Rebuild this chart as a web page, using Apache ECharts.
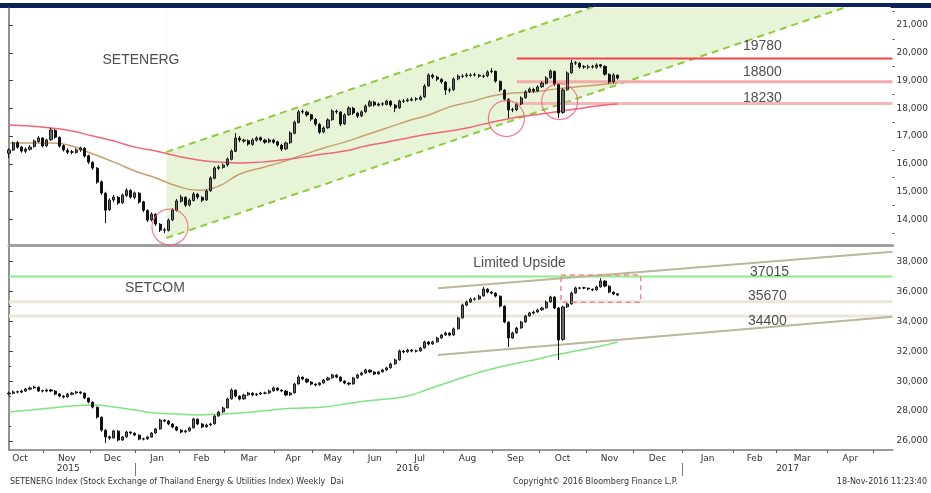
<!DOCTYPE html>
<html>
<head>
<meta charset="utf-8">
<script src="https://cdn.jsdelivr.net/npm/echarts@6/dist/echarts.min.js"></script>
<style>
html, body { margin: 0; padding: 0; background: #fff; }
#chart { width: 931px; height: 493px; }
</style>
</head>
<body>
<div id="chart"></div>
<script>
'use strict';

// x is counted in trading sessions from the left edge of the plot
var X_MAX = 421;
var BAR_STEP = 2; // one bar drawn every 2 sessions

var monthTicks = [16.3, 38.6, 60, 81, 102.4, 126.2, 144.6, 164, 184.6, 206.8, 230.1, 252.5, 275.1, 297.3, 320.8, 344.9, 365.6, 390.1, 411.6];
var monthLabelPos = [5.2, 27.5, 49.3, 70.5, 91.7, 114.3, 135.4, 154.3, 174.3, 195.7, 218.5, 241.3, 263.8, 286.2, 309, 332.9, 355.3, 378, 400.9];
var monthNames = ['Oct', 'Nov', 'Dec', 'Jan', 'Feb', 'Mar', 'Apr', 'May', 'Jun', 'Jul', 'Aug', 'Sep', 'Oct', 'Nov', 'Dec', 'Jan', 'Feb', 'Mar', 'Apr'];
var yearTicks = [60, 320.8];
var yearLabelPos = [28.2, 190, 371];
var yearNames = ['2015', '2016', '2017'];

var energTicks = [14000, 15000, 16000, 17000, 18000, 19000, 20000, 21000];
var energMinor = [13500, 14500, 15500, 16500, 17500, 18500, 19500, 20500, 21500];
var setcomTicks = [26000, 28000, 30000, 32000, 34000, 36000, 38000];
var setcomMinor = [27000, 29000, 31000, 33000, 35000, 37000];

// SETENERG bars [open, close, low, high]
var energBars = [
  [16380,16500,16200,16560],[16500,16750,16460,16800],[16760,16600,16540,16820],[16600,16460,16400,16640],
  [16450,16530,16380,16590],[16520,16600,16470,16680],[16620,16820,16580,16870],[16800,16930,16760,17000],
  [16930,16640,16590,16960],[16650,16860,16600,16900],[16870,17220,16820,17300],[17200,16960,16900,17250],
  [16950,16640,16580,16990],[16650,16500,16440,16700],[16480,16420,16350,16560],[16430,16420,16340,16500],
  [16410,16500,16360,16560],[16500,16570,16430,16620],[16560,16280,16220,16600],[16290,16060,15990,16330],
  [16050,15850,15780,16090],[15840,15340,15280,15880],[15350,14950,14880,15400],[14940,14330,13860,14990],
  [14350,14690,14300,14760],[14700,14800,14620,14880],[14790,14590,14520,14840],[14600,14870,14550,14930],
  [14860,15050,14800,15120],[15040,14800,14740,15080],[14790,14950,14720,15000],[14940,14620,14560,14980],
  [14630,14330,14260,14670],[14320,13970,13900,14360],[13980,14190,13920,14250],[14180,13830,13760,14220],
  [13820,13610,13540,13860],[13620,13610,13500,13700],[13600,13970,13560,14030],[13980,14330,13940,14400],
  [14320,14660,14280,14730],[14650,14800,14600,14880],[14790,14510,14440,14830],[14520,14690,14460,14750],
  [14680,14910,14640,14980],[14900,14800,14720,14950],[14790,14690,14620,14830],[14700,15020,14660,15080],
  [15030,15490,14990,15550],[15480,15850,15440,15910],[15840,15880,15780,15950],[15870,15950,15820,16010],
  [15960,16170,15900,16230],[16160,16460,16120,16520],[16450,16930,16420,17110],[16920,16860,16780,17000],
  [16850,16820,16760,16900],[16830,16710,16650,16880],[16700,16860,16650,16920],[16850,16930,16800,16990],
  [16940,16860,16800,16980],[16850,16780,16720,16900],[16790,16860,16740,16920],[16850,16780,16720,16900],
  [16790,16680,16620,16830],[16670,16530,16460,16720],[16540,16750,16490,16800],[16760,17110,16720,17170],
  [17100,17500,17060,17560],[17490,17870,17450,17940],[17880,17870,17800,17960],[17860,17760,17700,17910],
  [17770,17610,17540,17800],[17600,17430,17360,17650],[17420,17140,17080,17470],[17150,17290,17100,17350],
  [17300,17580,17260,17640],[17590,17900,17550,17960],[17890,17870,17800,17950],[17860,17430,17360,17900],
  [17440,17760,17400,17820],[17770,18010,17730,18070],[18000,17830,17760,18050],[17820,17720,17650,17870],
  [17730,17870,17680,17930],[17880,18080,17840,18140],[18090,18230,18040,18300],[18220,18120,18060,18270],
  [18110,18150,18070,18210],[18160,18150,18080,18220],[18140,18260,18100,18310],[18250,18120,18050,18290],
  [18110,18010,17860,18160],[18020,18260,17980,18310],[18250,18260,18190,18330],[18270,18300,18220,18360],
  [18290,18330,18250,18390],[18340,18330,18260,18400],[18320,18400,18280,18460],[18410,18800,18370,18870],
  [18810,19200,18770,19260],[19190,19130,19060,19250],[19120,19050,18980,19170],[19040,18950,18880,19090],
  [18940,18660,18480,18980],[18650,18660,18560,18740],[18670,19050,18630,19110],[19060,19160,19010,19220],
  [19150,19160,19090,19230],[19170,19200,19110,19270],[19190,19200,19130,19260],[19210,19200,19140,19280],
  [19190,19160,19100,19240],[19150,19160,19090,19220],[19170,19310,19120,19370],[19320,19340,19260,19450],
  [19330,18980,18920,19360],[18970,18660,18600,19000],[18650,18330,18270,18690],[18320,17940,17650,18360],
  [17950,17940,17860,18020],[17950,18150,17900,18210],[18160,18370,18110,18430],[18380,18590,18340,18650],
  [18600,18690,18550,18750],[18680,18620,18560,18740],[18630,18770,18580,18830],[18780,18910,18730,18970],
  [18900,19090,18860,19160],[19100,19340,19060,19400],[19330,18870,18800,19360],[18860,17830,17650,18900],
  [17850,18660,17800,18720],[18670,19270,18630,19330],[19280,19630,19240,19740],[19640,19630,19560,19700],
  [19620,19490,19430,19660],[19500,19490,19420,19560],[19480,19490,19410,19570],[19500,19490,19430,19560],
  [19480,19560,19420,19620],[19570,19520,19460,19600],[19510,19230,19170,19550],[19220,18950,18890,19260],
  [18960,19200,18900,19260],[19190,19090,19030,19220]
];

// SETCOM bars [open, close, low, high]
var setcomBars = [
  [29150,29210,29050,29300],[29200,29280,29120,29380],[29290,29280,29180,29370],[29270,29350,29200,29430],
  [29340,29480,29280,29560],[29470,29550,29400,29640],[29560,29610,29480,29700],[29600,29350,29280,29650],
  [29360,29350,29250,29440],[29340,29410,29260,29500],[29420,29350,29270,29480],[29340,29140,29060,29400],
  [29150,29010,28920,29200],[29000,28940,28850,29080],[28950,29140,28900,29220],[29130,29210,29060,29290],
  [29220,29280,29150,29360],[29270,29210,29130,29330],[29200,28880,28800,29250],[28870,28610,28520,28920],
  [28600,28270,28180,28650],[28260,27600,27500,28300],[27590,26730,26620,27640],[26720,26270,25860,26780],
  [26280,26200,26080,26350],[26210,26670,26150,26750],[26660,26060,25980,26720],[26070,26270,26000,26340],
  [26280,26600,26220,26680],[26590,26530,26440,26650],[26520,26400,26320,26580],[26390,26130,26050,26440],
  [26140,26130,26040,26220],[26140,26270,26080,26350],[26260,26530,26220,26600],[26540,26800,26480,26880],
  [26810,27400,26760,27480],[27390,27340,27250,27460],[27330,27140,27060,27400],[27130,26940,26860,27200],
  [26930,26730,26650,27000],[26720,26600,26520,26780],[26610,26670,26540,26750],[26680,26870,26620,26950],
  [26880,27470,26840,27560],[27460,27140,27060,27500],[27130,26940,26860,27200],[26950,27070,26880,27150],
  [27080,27140,27000,27220],[27150,27670,27100,27740],[27680,27940,27620,28020],[27950,28210,27890,28300],
  [28220,28810,28180,28900],[28820,29410,28780,29520],[29400,29010,28920,29450],[29000,28810,28720,29060],
  [28820,29080,28760,29150],[29090,29210,29020,29290],[29200,29080,29000,29260],[29090,29140,29010,29220],
  [29150,29210,29070,29290],[29200,29210,29120,29300],[29220,29350,29160,29430],[29360,29550,29300,29640],
  [29540,29410,29330,29600],[29400,29350,29270,29460],[29340,29080,29000,29400],[29090,29210,29020,29290],
  [29220,29810,29180,29900],[29820,30280,29780,30400],[30270,30150,30060,30320],[30140,29950,29870,30200],
  [29940,29810,29730,30000],[29800,29750,29660,29860],[29760,29880,29700,29950],[29890,30080,29830,30150],
  [30090,30220,30020,30300],[30230,30420,30170,30500],[30410,30280,30200,30480],[30270,30020,29940,30330],
  [30010,29880,29800,30060],[29870,29810,29720,29930],[29820,30220,29780,30290],[30230,30420,30170,30500],
  [30430,30550,30370,30640],[30560,30750,30490,30840],[30740,30620,30540,30800],[30610,30480,30400,30670],
  [30490,30620,30430,30700],[30630,30750,30570,30830],[30760,30890,30690,30980],[30900,31150,30840,31240],
  [31160,31420,31100,31520],[31430,32020,31380,32120],[32010,31960,31870,32090],[31970,32090,31900,32180],
  [32080,32020,31940,32160],[32030,32020,31930,32110],[32030,32220,31970,32300],[32230,32630,32180,32720],
  [32620,32490,32400,32690],[32500,32630,32430,32710],[32640,32890,32580,32980],[32900,33090,32840,33180],
  [33100,33230,33030,33320],[33220,33090,33000,33290],[33100,33500,33040,33590],[33510,34230,33460,34320],
  [34240,35100,34200,35200],[35090,35300,35020,35400],[35310,35500,35240,35600],[35490,35500,35400,35620],
  [35510,35700,35450,35800],[35710,36170,35660,36310],[36160,35970,35880,36220],[35960,35900,35810,36030],
  [35890,35700,35610,35960],[35690,35030,34940,35740],[35020,33960,33880,35080],[33950,32890,32290,34000],
  [32900,33230,32840,33320],[33240,33560,33180,33640],[33570,33960,33510,34040],[33970,34370,33910,34450],
  [34380,34570,34310,34650],[34560,34630,34480,34720],[34640,34770,34580,34850],[34780,34900,34710,34980],
  [34910,35300,34850,35400],[35310,35640,35250,35720],[35630,34900,34820,35680],[34900,32760,31420,34950],
  [32800,34970,32700,35060],[34980,35170,34900,35260],[35180,35900,35120,36000],[35910,36240,35850,36330],
  [36230,36240,36150,36320],[36250,36240,36160,36320],[36230,36170,36090,36260],[36160,36110,36030,36200],
  [36120,36310,36050,36400],[36320,36710,36260,36900],[36700,36370,36290,36760],[36360,35970,35890,36420],
  [35960,35840,35760,36010],[35850,35770,35690,35900]
];

// moving averages, sampled every 10 sessions
var maSessions = [0,10,20,30,40,50,60,70,80,90,100,110,120,130,140,150,160,170,180,190,200,210,220,230,240,250,260,270,280,290];
var energMaRed = [17400,17360,17290,17180,17000,16820,16600,16460,16280,16140,16060,16030,16060,16140,16240,16350,16460,16640,16780,16930,17070,17180,17320,17500,17650,17760,17870,17970,18080,18150];
var energMaTan = [16750,16750,16750,16640,16350,16060,15740,15490,15200,15050,15200,15630,15850,16060,16320,16570,16780,17040,17290,17540,17760,18050,18230,18440,18550,18590,18690,18770,18840,18910];
var setcomMaGreen = [27940,28070,28210,28340,28410,28275,28070,27870,27805,27740,27805,27870,28005,28140,28210,28275,28475,28675,28810,29010,29480,29950,30420,30820,31150,31420,31750,32020,32290,32630];

// rising channel on SETENERG
var channelSessions = [75, 420];
var channelLower = [13325, 22190];
var channelUpper = [16425, 25290];

var energLevelStart = 242;
var energLevels = [19790, 18960, 18170];
var energLevelNames = ['19780', '18800', '18230'];
var energLevelTextAt = [[359, 20243], [359, 19306], [359, 18369]];
var energCircles = [[76.7, 13720], [237, 17630], [262.4, 18243]];

var setcomLevels = [37015, 35320, 34370];
var setcomLevelNames = ['37015', '35670', '34400'];
var setcomLevelTextAt = [[362.4, 37330], [361.4, 35724], [361.4, 34011]];
var setcomUpperTrend = [[204.4, 36219], [421, 38669]];
var setcomLowerTrend = [[204.4, 31755], [421, 34318]];
var setcomBox = [[263, 37110], [301, 37110], [301, 35282], [263, 35282], [263, 37110]];

var titles = [
  { text: 'SETENERG', grid: 0, at: [62.9, 19739] },
  { text: 'SETCOM', grid: 1, at: [69.5, 36219] },
  { text: 'Limited Upside', grid: 1, at: [243.3, 37933] }
];

var LABEL_FONT = 'DejaVu Sans';
var TEXT_FONT = 'Liberation Sans';

function bars(list) {
  return list.map(function (b, i) { return [i * BAR_STEP, b[0], b[1], b[2], b[3]]; });
}
function pairs(xs, ys) {
  return xs.map(function (x, i) { return [x, ys[i]]; });
}
function hline(v, from) {
  return [[from, v], [X_MAX, v]];
}
function lineSeries(gridIdx, data, color, width, extra) {
  var s = {
    type: 'line',
    xAxisIndex: gridIdx === 0 ? 0 : 1,
    yAxisIndex: gridIdx === 0 ? 0 : 2,
    data: data,
    symbol: 'none',
    silent: true,
    lineStyle: { color: color, width: width }
  };
  for (var k in extra) { s[k] = extra[k]; }
  return s;
}
function textSeries(gridIdx, items) {
  return {
    type: 'scatter',
    xAxisIndex: gridIdx === 0 ? 0 : 1,
    yAxisIndex: gridIdx === 0 ? 0 : 2,
    symbolSize: 1,
    z: 10,
    itemStyle: { color: 'rgba(0,0,0,0)' },
    data: items.map(function (it) { return { value: it.at, name: it.text }; }),
    label: {
      show: true,
      position: 'inside',
      formatter: function (p) { return p.name; },
      fontFamily: TEXT_FONT,
      fontSize: 14,
      color: '#222'
    }
  };
}

var candleStyle = {
  color: '#6a6a6a',
  color0: '#111',
  borderColor: '#1a1a1a',
  borderColor0: '#111',
  borderWidth: 1
};

var series = [];

// channel: green fill above the lower edge, then white above the upper edge
var channelDash = { color: '#8dcc3c', width: 2, type: [7, 5] };
series.push(lineSeries(0, pairs(channelSessions, channelLower), '#8dcc3c', 2,
  { z: 1, lineStyle: channelDash, areaStyle: { origin: 'end', color: '#e7f4d8', opacity: 1 } }));
series.push(lineSeries(0, pairs(channelSessions, channelUpper), '#8dcc3c', 2,
  { z: 1, lineStyle: channelDash, areaStyle: { origin: 'end', color: '#ffffff', opacity: 1 } }));

// SETENERG levels
var energLevelColors = ['#ef4448', '#f6aaa9', '#f7b6b6'];
var energLevelWidths = [2, 3, 3];
energLevels.forEach(function (v, i) {
  series.push(lineSeries(0, hline(v, energLevelStart), energLevelColors[i], energLevelWidths[i], { z: 2 }));
});

// SETENERG averages
series.push(lineSeries(0, pairs(maSessions, energMaTan), '#c9a06c', 1.5, { smooth: true, z: 2 }));
series.push(lineSeries(0, pairs(maSessions, energMaRed), '#f06677', 1.5, { smooth: true, z: 2 }));

series.push({
  type: 'candlestick',
  xAxisIndex: 0,
  yAxisIndex: 0,
  data: bars(energBars),
  encode: { x: 0, y: [1, 2, 3, 4] },
  barWidth: 2.6,
  z: 4,
  silent: true,
  itemStyle: candleStyle
});

series.push({
  type: 'scatter',
  xAxisIndex: 0,
  yAxisIndex: 0,
  data: energCircles,
  symbol: 'circle',
  symbolSize: 36,
  z: 6,
  silent: true,
  itemStyle: { color: 'rgba(0,0,0,0)', borderColor: '#ef6070', borderWidth: 1.2 }
});

series.push(textSeries(0, energLevelNames.map(function (n, i) {
  return { text: n, at: energLevelTextAt[i] };
}).concat(titles.filter(function (t) { return t.grid === 0; }))));

// SETCOM levels and trend lines
var setcomLevelColors = ['#8eec8e', '#e9e7da', '#e9e7da'];
var setcomLevelWidths = [2, 3, 3];
setcomLevels.forEach(function (v, i) {
  series.push(lineSeries(1, hline(v, 0), setcomLevelColors[i], setcomLevelWidths[i], { z: 2 }));
});
series.push(lineSeries(1, setcomUpperTrend, '#bdb698', 2, { z: 3 }));
series.push(lineSeries(1, setcomLowerTrend, '#bdb698', 2, { z: 3 }));
series.push(lineSeries(1, pairs(maSessions, setcomMaGreen), '#7ee67e', 1.5, { smooth: true, z: 2 }));
series.push(lineSeries(1, setcomBox, '#f08a8a', 1.5,
  { z: 5, lineStyle: { color: '#f08a8a', width: 1.5, type: [5, 4] } }));

series.push({
  type: 'candlestick',
  xAxisIndex: 1,
  yAxisIndex: 2,
  data: bars(setcomBars),
  encode: { x: 0, y: [1, 2, 3, 4] },
  barWidth: 2.6,
  z: 4,
  silent: true,
  itemStyle: candleStyle
});

series.push(textSeries(1, setcomLevelNames.map(function (n, i) {
  return { text: n, at: setcomLevelTextAt[i] };
}).concat(titles.filter(function (t) { return t.grid === 1; }))));

var axisLabelStyle = { fontFamily: LABEL_FONT, fontSize: 9, color: '#333' };

function priceAxis(gridIdx, min, max, ticks) {
  return {
    type: 'value',
    gridIndex: gridIdx,
    position: 'right',
    min: min,
    max: max,
    splitLine: { show: false },
    axisLine: { show: true, lineStyle: { color: '#6d6d6d', width: 1.5 } },
    axisTick: { show: true, customValues: ticks, length: 4, lineStyle: { color: '#444' } },
    axisLabel: Object.assign({ customValues: ticks, margin: 4 }, axisLabelStyle)
  };
}
function minorAxis(gridIdx, min, max, ticks) {
  return {
    type: 'value',
    gridIndex: gridIdx,
    position: 'right',
    min: min,
    max: max,
    splitLine: { show: false },
    axisLine: { show: false },
    axisTick: { show: true, customValues: ticks, length: 2, lineStyle: { color: '#444' } },
    axisLabel: { show: false }
  };
}

var option = {
  animation: false,
  backgroundColor: '#fff',
  grid: [
    { left: 9, right: 38, top: 8, height: 237 },
    { left: 9, right: 38, top: 247, height: 203 }
  ],
  xAxis: [
    {
      type: 'value', gridIndex: 0, min: 0, max: X_MAX,
      splitLine: { show: false },
      axisLine: { show: true, lineStyle: { color: '#a0a0a0', width: 3 } },
      axisTick: { show: false },
      axisLabel: { show: false }
    },
    {
      type: 'value', gridIndex: 1, min: 0, max: X_MAX,
      splitLine: { show: false },
      axisLine: { show: true, lineStyle: { color: '#9a9a9a', width: 2 } },
      axisTick: { show: true, customValues: monthTicks, length: 3, lineStyle: { color: '#555' } },
      axisLabel: Object.assign({
        customValues: monthLabelPos,
        margin: 4,
        formatter: function (v) { return monthNames[monthLabelPos.indexOf(v)]; }
      }, axisLabelStyle)
    },
    {
      type: 'value', gridIndex: 1, min: 0, max: X_MAX, position: 'bottom', offset: 13,
      splitLine: { show: false },
      axisLine: { show: false },
      axisTick: { show: true, customValues: yearTicks, length: 13, lineStyle: { color: '#777' } },
      axisLabel: Object.assign({
        customValues: yearLabelPos,
        margin: 1,
        formatter: function (v) { return yearNames[yearLabelPos.indexOf(v)]; }
      }, axisLabelStyle)
    }
  ],
  yAxis: [
    priceAxis(0, 13074, 21613, energTicks),
    minorAxis(0, 13074, 21613, energMinor),
    priceAxis(1, 25397, 38984, setcomTicks),
    minorAxis(1, 25397, 38984, setcomMinor)
  ],
  series: series,
  graphic: [
    { type: 'rect', left: 0, top: 3, shape: { width: 931, height: 5 }, style: { fill: '#0b2358' }, silent: true },
    { type: 'text', left: 10, top: 478,
      style: { text: 'SETENERG Index (Stock Exchange of Thailand Energy & Utilities Index) Weekly  Dai',
        font: '8px "DejaVu Sans"', fill: '#333' } },
    { type: 'text', left: 513, top: 478,
      style: { text: 'Copyright\u00a9 2016 Bloomberg Finance L.P.', font: '8px "DejaVu Sans"', fill: '#333' } },
    { type: 'text', right: 4, top: 478,
      style: { text: '18-Nov-2016 11:23:40', font: '8px "DejaVu Sans"', fill: '#333' } }
  ]
};

var myChart = echarts.init(document.getElementById('chart'));
myChart.setOption(option);
</script>
</body>
</html>
